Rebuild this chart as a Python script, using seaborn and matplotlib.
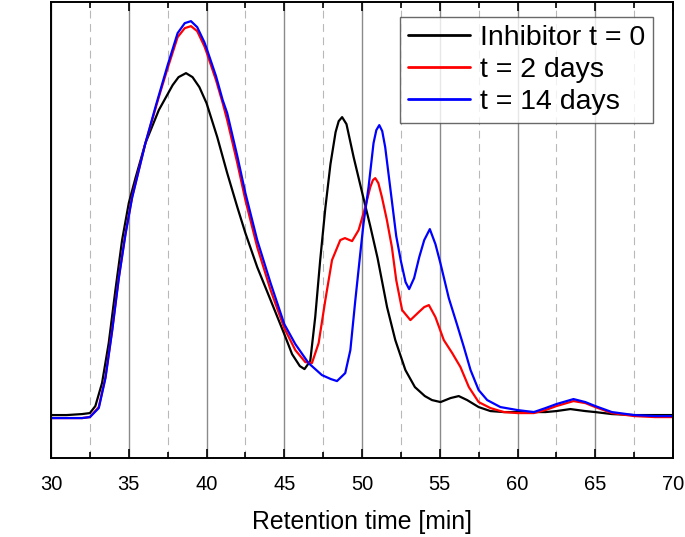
import numpy as np
import pandas as pd
import matplotlib
matplotlib.use("Agg")
import matplotlib.pyplot as plt
from matplotlib.ticker import MultipleLocator, NullLocator
import seaborn as sns

# ---- data (retention time [min], intensity in arbitrary units) ----
t_black = [30, 31, 32, 32.5, 32.85, 33.28, 33.71, 34.14, 34.57, 35.0, 35.43, 36.07, 36.93, 37.5,
           37.82, 38.2, 38.68, 39.1, 39.54, 40.0, 40.69, 41.33, 41.98, 42.5, 43.26, 44.12, 45.0,
           45.5, 46.0, 46.3, 46.67, 46.99, 47.31, 47.64, 47.97, 48.3, 48.5, 48.72, 49.0, 49.46,
           50.0, 50.53, 51.0, 51.61, 52.14, 52.79, 53.4, 54.04, 54.5, 55.05, 55.69, 56.22, 56.76,
           57.5, 58.26, 59.12, 60.0, 61.05, 61.8, 62.5, 63.4, 64.36, 65.0, 66.07, 67.5, 70]
v_black = [43, 43, 44, 45, 52, 75, 115, 168, 218, 255, 280, 315, 348, 364,
           373, 381, 385, 381, 371, 355, 321, 285, 251, 225, 191, 158, 124,
           104, 92, 89, 97, 141, 198, 250, 294, 326, 337, 341, 334, 301,
           266, 232, 200, 151, 118, 88, 71, 62, 58, 56, 60, 62, 58,
           51, 47, 46, 46, 46, 46, 47, 49, 47, 46, 44, 43, 43]

t_red = [30, 31, 32, 32.5, 33.07, 33.5, 33.93, 34.36, 34.79, 35.21, 36.07, 36.93, 37.5, 38.14,
         38.6, 39.0, 39.4, 39.86, 40.0, 40.61, 41.04, 41.33, 41.98, 42.5, 43.26, 44.12, 45.0,
         45.71, 46.35, 46.78, 47.21, 47.64, 48.07, 48.6, 48.9, 49.36, 49.78, 50.21, 50.53, 50.7,
         50.85, 51.05, 51.28, 51.6, 51.92, 52.2, 52.58, 53.11, 53.65, 54.0, 54.3, 54.72, 55.26,
         55.8, 56.33, 56.87, 57.5, 58.26, 59.12, 60.0, 61.05, 61.8, 62.5, 63.6, 64.36, 65.0,
         66.07, 67.5, 68.85, 70]
v_red = [40, 40, 40, 41, 51, 81, 128, 181, 225, 261, 315, 361, 390, 421,
         430, 432, 427, 412, 406, 378, 355, 338, 295, 258, 211, 168, 130,
         108, 96, 95, 115, 158, 198, 218, 220, 217, 228, 251, 271, 278,
         280, 275, 261, 238, 211, 178, 148, 138, 146, 151, 153, 141, 118,
         105, 91, 71, 56, 50, 46, 45, 45, 48, 52, 57, 55, 51,
         45, 42, 41, 41]

t_blue = [30, 31, 32, 32.5, 33.07, 33.5, 33.93, 34.36, 34.79, 35.21, 36.07, 36.75, 37.5, 38.14,
          38.6, 39.0, 39.4, 39.86, 40.0, 40.61, 41.04, 41.33, 41.98, 42.5, 43.26, 44.12, 45.0,
          45.71, 46.56, 47.42, 48.0, 48.39, 48.92, 49.25, 49.57, 49.89, 50.1, 50.42, 50.74, 50.92,
          51.11, 51.3, 51.49, 51.81, 52.2, 52.5, 52.8, 53.03, 53.35, 53.68, 54.0, 54.36, 54.72,
          55.04, 55.58, 56.12, 56.55, 56.98, 57.5, 58.05, 58.9, 60.0, 61.05, 61.8, 62.5, 63.6,
          64.36, 65.0, 66.07, 67.5, 68.85, 70]
v_blue = [40, 40, 40, 41, 50, 80, 127, 180, 224, 260, 315, 353, 393, 425,
          435, 437, 431, 416, 410, 382, 358, 345, 302, 265, 218, 175, 134,
          114, 95, 83, 79, 77, 85, 108, 158, 205, 235, 271, 315, 328,
          333, 327, 311, 271, 222, 197, 176, 169, 180, 201, 218, 229, 214,
          195, 160, 133, 111, 88, 68, 58, 51, 48, 46, 50, 54, 59,
          56, 52, 46, 43, 42, 42]

labels = ["Inhibitor t = 0", "t = 2 days", "t = 14 days"]
colors = ["#000000", "#ff0000", "#0000ff"]
x_ticks = [30, 35, 40, 45, 50, 55, 60, 65, 70]

df = pd.concat([
    pd.DataFrame({"time": t_black, "intensity": v_black, "sample": labels[0]}),
    pd.DataFrame({"time": t_red, "intensity": v_red, "sample": labels[1]}),
    pd.DataFrame({"time": t_blue, "intensity": v_blue, "sample": labels[2]}),
], ignore_index=True)

sns.set_style("white")
plt.rcParams["font.family"] = ["Liberation Sans", "DejaVu Sans"]
plt.rcParams["text.color"] = "black"
plt.rcParams["axes.labelcolor"] = "black"
plt.rcParams["xtick.color"] = "black"
plt.rcParams["ytick.color"] = "black"

fig = plt.figure(figsize=(6.85, 5.37), dpi=100)
ax = fig.add_axes([0.0745, 0.147, 0.908, 0.849])

ax.set_xlim(30, 70)
ax.set_ylim(0, 456)
ax.xaxis.set_major_locator(MultipleLocator(5))
ax.xaxis.set_minor_locator(MultipleLocator(2.5))
ax.yaxis.set_major_locator(NullLocator())
ax.grid(True, which="major", axis="x", color="#8a8a8a", linewidth=1.0, linestyle="-")
ax.grid(True, which="minor", axis="x", color="#b8b8b8", linewidth=0.8, linestyle=(0, (7, 5)))
ax.set_axisbelow(True)

sns.lineplot(data=df, x="time", y="intensity", hue="sample", hue_order=labels,
             palette=dict(zip(labels, colors)), linewidth=1.6, sort=True,
             estimator=None, ax=ax, legend=True)

ax.set_xticks(x_ticks)
ax.set_xticklabels([str(v) for v in x_ticks], fontsize=14.5)
ax.set_xlabel("Retention time [min]", fontsize=17.8, labelpad=11)
ax.set_ylabel("Intentsity", fontsize=17.5, labelpad=8)

ax.tick_params(axis="x", which="both", direction="in", top=True, bottom=True,
               colors="black", width=1.2, pad=12.5)
ax.tick_params(axis="x", which="major", length=6.5)
ax.tick_params(axis="x", which="minor", length=4)
ax.tick_params(axis="y", left=False, right=False, labelleft=False)

for s in ax.spines.values():
    s.set_visible(True)
    s.set_color("black")
    s.set_linewidth(1.4)

handles, lbls = ax.get_legend_handles_labels()
leg = ax.legend(handles, lbls, loc="upper right", bbox_to_anchor=(0.968, 0.967),
                borderaxespad=0, fontsize=20.5, frameon=True, fancybox=False,
                edgecolor="#444444", handlelength=2.2, handletextpad=0.33,
                labelspacing=0.2, borderpad=0.28, title=None)
leg.get_frame().set_linewidth(1.0)
for line in leg.get_lines():
    line.set_linewidth(2.0)

fig.savefig("out.png", dpi=100)
